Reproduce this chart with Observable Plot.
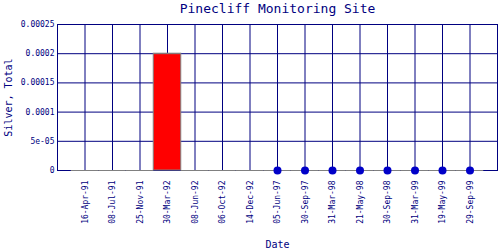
<!DOCTYPE html>
<html>
<head>
<meta charset="utf-8">
<script src="https://cdn.jsdelivr.net/npm/d3@7"></script>
<script src="https://cdn.jsdelivr.net/npm/@observablehq/plot@0.6"></script>
<style>
  html, body { margin: 0; padding: 0; background: #fff; }
  #chart svg { display: block; }
</style>
</head>
<body>
<div id="chart"></div>
<script>
const title = "Pinecliff Monitoring Site";
const xLabel = "Date";
const yLabel = "Silver, Total";
const dates = ["16-Apr-91","08-Jul-91","25-Nov-91","30-Mar-92","08-Jun-92","06-Oct-92","14-Dec-92",
  "05-Jun-97","30-Sep-97","31-Mar-98","21-May-98","30-Sep-98","31-Mar-99","19-May-99","29-Sep-99"];
const values = [0,0,0,0.0002,0,0,0,0,0,0,0,0,0,0,0];
const nonDetect = [false,false,false,false,false,false,false,true,true,true,true,true,true,true,true];
const yTicks = [0, 0.00005, 0.0001, 0.00015, 0.0002, 0.00025];
const yTickLabels = ["0","5e-05","0.0001","0.00015","0.0002","0.00025"];

const data = dates.map((d, i) => ({date: d, value: values[i], nd: nonDetect[i]}));
const navy = "#000080";

const chart = Plot.plot({
  width: 500,
  height: 250,
  marginLeft: 57,
  marginRight: 3,
  marginTop: 24,
  marginBottom: 80,
  style: {fontFamily: "DejaVu Sans Mono, monospace", fontSize: "8px", color: navy, background: "#fff"},
  x: {type: "band", domain: dates, paddingInner: 0, paddingOuter: 0.5, round: false},
  y: {domain: [0, 0.00025]},
  marks: [
    Plot.gridX(dates, {stroke: navy, strokeOpacity: 1, strokeWidth: 1}),
    Plot.gridY(yTicks, {stroke: navy, strokeOpacity: 1, strokeWidth: 1}),
    Plot.frame({stroke: navy, strokeWidth: 1}),
    Plot.barY(data.filter(d => d.value > 0), {x: "date", y: "value", fill: "#ff0000", stroke: "#808080", strokeWidth: 1}),
    Plot.tickY(data, {x: "date", y: "value", stroke: "#808080", strokeWidth: 1}),
    Plot.dot(data.filter(d => d.nd), {x: "date", y: "value", r: 4, fill: "#0000c8", stroke: "none"}),
    Plot.axisX({tickSize: 0, tickPadding: 10, tickRotate: -90, label: null, fill: navy, fontSize: 8}),
    Plot.axisY(yTicks, {tickSize: 0, tickPadding: 3, label: null, fill: navy, fontSize: 8,
      tickFormat: (d) => yTickLabels[yTicks.indexOf(d)]}),
    Plot.text([title], {frameAnchor: "top", dy: -16, fill: navy, fontSize: 13, lineAnchor: "middle"}),
    Plot.text([yLabel], {frameAnchor: "left", dx: -49, rotate: -90, textAnchor: "middle", fill: navy, fontSize: 10, lineAnchor: "middle"}),
    Plot.text([xLabel], {frameAnchor: "bottom", dy: 74, fill: navy, fontSize: 10, lineAnchor: "middle"})
  ]
});
document.getElementById("chart").appendChild(chart);
</script>
</body>
</html>
